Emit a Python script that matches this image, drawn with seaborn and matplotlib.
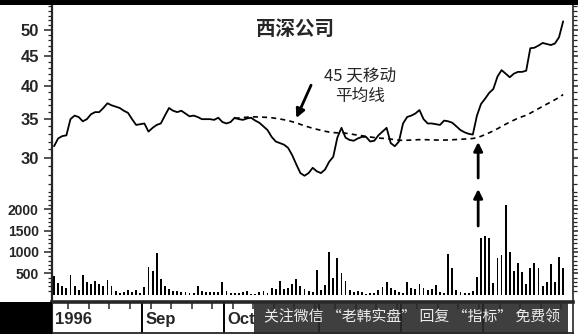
import numpy as np
import pandas as pd
import matplotlib
matplotlib.use("Agg")
import matplotlib.pyplot as plt
import matplotlib.patches as mpatches
from matplotlib.ticker import NullFormatter
import seaborn as sns

# ---------------- data ----------------
price = [31.4, 32.4, 32.7, 32.8, 35.0, 35.5, 35.3, 34.7, 35.0, 35.7,
         36.0, 36.0, 36.6, 37.3, 37.0, 36.8, 36.6, 36.2, 35.9, 35.0,
         34.2, 34.3, 34.4, 33.3, 33.8, 34.2, 34.4, 35.5, 36.6, 36.2,
         36.0, 36.2, 35.8, 35.4, 35.5, 35.3, 35.0, 35.0, 35.0, 34.9,
         35.2, 34.6, 34.4, 34.6, 35.2, 35.0, 34.9, 35.1, 35.2, 34.8,
         34.5, 34.0, 33.5, 32.6, 32.0, 31.8, 31.6, 31.2, 30.3, 29.2,
         28.2, 27.9, 28.2, 28.8, 28.4, 28.2, 28.6, 29.5, 30.1, 32.5,
         33.8, 32.5, 32.2, 32.1, 32.4, 32.6, 32.6, 32.0, 32.1, 32.8,
         33.3, 33.8, 31.8, 31.4, 32.0, 34.4, 35.3, 35.5, 35.8, 36.3,
         35.0, 34.4, 34.4, 34.3, 34.2, 34.8, 34.7, 34.5, 34.0, 33.5,
         33.2, 33.0, 32.9, 35.5, 37.2, 38.0, 38.9, 39.5, 41.5, 42.6,
         42.0, 41.4, 42.0, 42.3, 42.3, 42.5, 46.5, 46.6, 47.0, 47.5,
         47.3, 47.1, 47.4, 48.6, 51.8]

volume = [435, 280, 217, 163, 465, 217, 124, 465, 294, 256,
          333, 256, 217, 357, 217, 101, 47, 62, 124, 78,
          124, 47, 178, 643, 566, 977, 372, 217, 140, 101,
          85, 78, 62, 47, 47, 217, 101, 78, 62, 62,
          78, 295, 101, 47, 47, 47, 62, 101, 23, 30,
          78, 101, 47, 170, 140, 333, 140, 160, 250, 372,
          217, 140, 101, 62, 581, 116, 232, 1007, 388, 868,
          504, 326, 116, 77, 93, 62, 30, 54, 54, 116,
          194, 310, 155, 116, 62, 54, 295, 171, 139, 248,
          155, 116, 139, 232, 77, 54, 946, 636, 116, 77,
          54, 54, 93, 426, 1333, 1372, 1318, 271, 868, 940,
          2093, 992, 558, 736, 527, 248, 620, 752, 620, 217,
          295, 713, 295, 891, 636]

ma_window = 45
title = "西深公司"
ma_label = "45 天移动\n平均线"
month_starts = [0, 22, 42, 65, 85, 105]
month_labels = ["1996", "Sep", "Oct"]   # later labels are hidden by the overlay band
price_ticks = [30, 35, 40, 45, 50]
volume_ticks = [500, 1000, 1500, 2000]
watermark = "关注微信 “老韩实盘” 回复 “指标” 免费领"

df = pd.DataFrame({"day": np.arange(len(price)), "price": price, "volume": volume})
df["ma"] = df["price"].rolling(ma_window).mean()

# ---------------- style ----------------
sns.set_style("white")
plt.rcParams["font.family"] = ["Liberation Sans", "Noto Sans CJK SC", "DejaVu Sans"]
CJK = ["Noto Sans CJK SC", "DejaVu Sans"]

W, H = 578, 334
fig = plt.figure(figsize=(W / 100, H / 100), dpi=100)
fig.patch.set_facecolor("white")


def box(x0, y0, x1, y1):
    return [x0 / W, 1 - y1 / H, (x1 - x0) / W, (y1 - y0) / H]


ax_p = fig.add_axes(box(52, 5, 573, 190))
ax_v = fig.add_axes(box(52, 190, 573, 302), sharex=ax_p)
ax_b = fig.add_axes(box(52, 302, 573, 333), sharex=ax_p)
ax_p.set_zorder(3)
ax_p.patch.set_visible(False)

# price + moving average
sns.lineplot(data=df, x="day", y="price", ax=ax_p, color="black", lw=1.3)
sns.lineplot(data=df, x="day", y="ma", ax=ax_p, color="black", lw=1.2,
             linestyle=(0, (3, 2.5)))
ax_p.set_yscale("log")
ax_p.set_ylim(26.35, 55.3)
ax_p.set_yticks(price_ticks, labels=[str(t) for t in price_ticks])
ax_p.set_yticks([v for v in range(27, 56) if v not in price_ticks], minor=True)
ax_p.yaxis.set_minor_formatter(NullFormatter())

# volume
sns.barplot(data=df, x="day", y="volume", ax=ax_v, color="black",
            native_scale=True, width=0.45, errorbar=None, linewidth=0,
            saturation=1)
ax_v.set_ylim(-163, 2442)
ax_v.set_yticks(volume_ticks, labels=[str(t) for t in volume_ticks])
ax_v.set_yticks([v for v in range(100, 2500, 100) if v not in volume_ticks], minor=True)

for ax, fs in ((ax_p, 12), (ax_v, 10)):
    ax.set_xlabel("")
    ax.set_ylabel("")
    ax.tick_params(axis="y", which="major", left=True, right=True, direction="out",
                   length=6, width=1.1, pad=3.5, labelsize=fs)
    ax.tick_params(axis="y", which="minor", left=True, right=True, direction="out",
                   length=3, width=0.9)
    ax.tick_params(axis="x", which="both", bottom=False, top=False,
                   labelbottom=False, labeltop=False)
    for lab in ax.get_yticklabels():
        lab.set_fontweight("bold")
    ax.spines["left"].set_linewidth(1.6)
    ax.spines["right"].set_linewidth(1.2)

ax_p.spines["bottom"].set_visible(False)
ax_p.spines["top"].set_visible(False)
ax_v.spines["top"].set_visible(False)
ax_v.spines["bottom"].set_visible(False)

# date band
ax_b.set_ylim(0, 1)
ax_b.set_yticks([])
ax_b.xaxis.tick_top()
ax_b.set_xticks(np.arange(3.5, 126, 5))
ax_b.tick_params(axis="x", which="major", top=True, bottom=False, direction="in",
                 length=5, width=1.1, labeltop=False, labelbottom=False)
ax_b.tick_params(axis="x", which="minor", top=False, bottom=False)
ax_b.spines["top"].set_linewidth(2.6)
ax_b.spines["bottom"].set_linewidth(1.3)
ax_b.spines["right"].set_linewidth(1.2)
for s in month_starts[1:]:
    ax_b.axvline(s - 0.5, color="black", lw=1.4)
for s, lab in zip(month_starts, month_labels):
    ax_b.text(s - 0.5 + 0.75, 0.42, lab, fontsize=12, fontweight="bold",
              ha="left", va="center")

ax_p.set_xlim(-0.5, 126.4)

# annotations
ax_p.text(0.466, 0.865, title, transform=ax_p.transAxes, ha="center", va="center",
          fontsize=14, fontweight="bold", family=CJK)
ax_p.text(0.591, 0.562, ma_label, transform=ax_p.transAxes, ha="center", va="center",
          fontsize=12, linespacing=1.25, multialignment="center", family=CJK)
arrow = dict(arrowstyle="-|>", color="black", lw=2, mutation_scale=13,
             shrinkA=0, shrinkB=0)
ax_p.annotate("", xy=(59, 35.15), xytext=(62.6, 40.1), arrowprops=arrow)
ax_p.annotate("", xy=(103.3, H - 142), xycoords=("data", "figure pixels"),
              xytext=(103.3, H - 178), textcoords=("data", "figure pixels"),
              arrowprops=arrow, annotation_clip=False)
ax_p.annotate("", xy=(103.3, H - 189), xycoords=("data", "figure pixels"),
              xytext=(103.3, H - 226), textcoords=("data", "figure pixels"),
              arrowprops=arrow, annotation_clip=False)

# frame pieces
fig.patches.append(mpatches.Rectangle((0, 1 - 5 / H), 1, 5 / H, transform=fig.transFigure,
                                      facecolor="black", edgecolor="none", zorder=5))
fig.patches.append(mpatches.Rectangle((0, 0), 52 / W, 32 / H, transform=fig.transFigure,
                                      facecolor="black", edgecolor="none", zorder=5))
# watermark overlay
fig.patches.append(mpatches.Rectangle((254 / W, 0), (568 - 254) / W, 32 / H,
                                      transform=fig.transFigure, facecolor="#2a2a2a",
                                      edgecolor="none", alpha=0.9, zorder=5))
fig.text(412 / W, 1 - 317.5 / H, watermark, ha="center", va="center", fontsize=10.7,
         color="#ececec", family=CJK, zorder=6)

fig.savefig("out.png", dpi=100)
